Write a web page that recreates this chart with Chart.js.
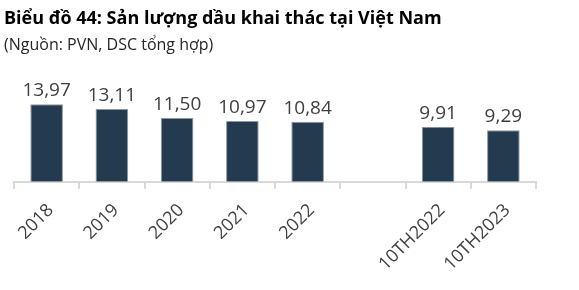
<!DOCTYPE html>
<html>
<head>
<meta charset="utf-8">
<script src="https://cdn.jsdelivr.net/npm/chart.js@4"></script>
<style>
  body { margin: 0; background: #fff; }
  #wrap { position: relative; width: 579px; height: 290px; }
  #title { position: absolute; left: 4px; top: 5px; font: bold 18px "Open Sans"; color: #000; white-space: nowrap; }
  #sub { position: absolute; left: 4px; top: 33px; font: 16px "Open Sans"; color: #262626; white-space: nowrap; }
  canvas { position: absolute; left: 0; top: 0; }
</style>
</head>
<body>
<div id="wrap">
  <canvas id="chart" width="579" height="290"></canvas>
  <div id="title">Biểu đồ 44: Sản lượng dầu khai thác tại Việt Nam</div>
  <div id="sub">(Nguồn: PVN, DSC tổng hợp)</div>
</div>
<script>
// du lieu doc tu hinh
const categories = ['2018', '2019', '2020', '2021', '2022', '', '10TH2022', '10TH2023'];
const oilOutput = [13.97, 13.11, 11.50, 10.97, 10.84, null, 9.91, 9.29];

// ve nhan gia tri tren dau cot
const valueLabels = {
    id: 'valueLabels',
    afterDatasetsDraw(chart) {
        const ctx = chart.ctx;
        const meta = chart.getDatasetMeta(0);
        ctx.save();
        ctx.font = '19px "Open Sans"';
        ctx.fillStyle = '#404040';
        ctx.textAlign = 'center';
        ctx.textBaseline = 'bottom';
        meta.data.forEach((bar, i) => {
            const v = oilOutput[i];
            if (v == null) return;
            ctx.fillText(v.toFixed(2).replace('.', ','), bar.x, bar.y - 4);
        });
        ctx.restore();
    }
};

new Chart(document.getElementById('chart').getContext('2d'), {
    type: 'bar',
    data: {
        labels: categories,
        datasets: [{
            data: oilOutput,
            backgroundColor: '#243a4f',
            borderColor: '#8a97a3',
            borderWidth: 1,
            barPercentage: 0.5,
            categoryPercentage: 1.0
        }]
    },
    options: {
        responsive: false,
        animation: false,
        layout: { padding: { top: 71, left: 14, right: 43, bottom: 4 } },
        plugins: {
            legend: { display: false },
            tooltip: { enabled: false }
        },
        scales: {
            x: {
                grid: { drawOnChartArea: false, drawTicks: true, tickLength: 7, color: '#d9d9d9', lineWidth: 2 },
                border: { display: true, color: '#d9d9d9', width: 2 },
                ticks: {
                    color: '#404040',
                    font: { family: 'Open Sans', size: 18 },
                    minRotation: 45,
                    maxRotation: 45,
                    autoSkip: false,
                    padding: 11,
                    labelOffset: 4
                }
            },
            y: {
                display: false,
                min: 0,
                max: 20
            }
        }
    },
    plugins: [valueLabels]
});
</script>
</body>
</html>
